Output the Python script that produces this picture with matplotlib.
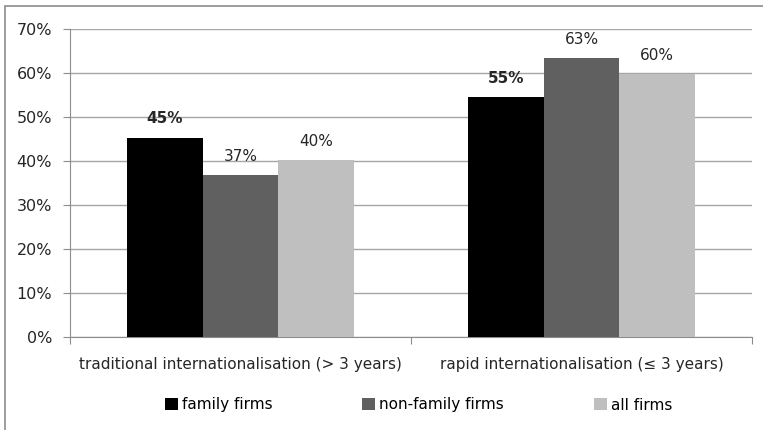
import numpy as np
import matplotlib
matplotlib.use("Agg")
import matplotlib.pyplot as plt
from matplotlib.patches import Rectangle
from matplotlib.ticker import FuncFormatter

categories = ["traditional internationalisation (> 3 years)",
              "rapid internationalisation (\u2264 3 years)"]
series_names = ["family firms", "non-family firms", "all firms"]
family = [45.4, 54.6]
non_family = [36.8, 63.4]
all_firms = [40.2, 59.8]
colors = ["#000000", "#606060", "#bfbfbf"]

fig = plt.figure(figsize=(7.63, 4.30), dpi=100)
ax = fig.add_axes([70 / 763, 1 - 337.3 / 430, 682 / 763, 308 / 430])

x = np.arange(len(categories))
width = 0.222
values = [family, non_family, all_firms]

for i, (name, vals, col) in enumerate(zip(series_names, values, colors)):
    pos = x + (i - 1) * width
    bars = ax.bar(pos, vals, width, color=col, label=name, zorder=3)
    for b, v in zip(bars, vals):
        ax.annotate(f"{v:.0f}%", (b.get_x() + b.get_width() / 2, v),
                    xytext=(0, 8), textcoords="offset points",
                    ha="center", va="bottom", fontsize=11,
                    fontweight="bold" if i == 0 else "normal",
                    color="#262626")

ax.set_xlim(-0.5, 1.5)
ax.set_ylim(0, 70)
ax.set_yticks(np.arange(0, 71, 10))
ax.yaxis.set_major_formatter(FuncFormatter(lambda v, p: f"{v:.0f}%"))
ax.set_xticks([-0.5, 0.5, 1.5])
ax.set_xticklabels([])
ax.set_xticks(x, minor=True)
ax.set_xticklabels(categories, minor=True)
ax.tick_params(axis="x", which="minor", length=0, pad=14, labelsize=11,
               labelcolor="#262626")
ax.tick_params(axis="x", which="major", length=5, color="#8c8c8c")
ax.tick_params(axis="y", length=5, color="#8c8c8c", labelsize=11.5,
               labelcolor="#262626", pad=8)

ax.grid(axis="y", color="#a6a6a6", linewidth=1, zorder=0)
for s in ["top", "right"]:
    ax.spines[s].set_visible(False)
for s in ["left", "bottom"]:
    ax.spines[s].set_color("#8c8c8c")

fig.legend(loc="center", bbox_to_anchor=(418.5 / 763, 1 - 405 / 430),
           ncol=3, frameon=False, fontsize=11, handlelength=0.85,
           handleheight=0.85, handletextpad=0.25, columnspacing=5.9,
           borderpad=0, borderaxespad=0)

# outer frame: only left and top edges are visible in the crop
fig.patches.append(Rectangle((5 / 763, -0.1), 1.0, 1.1 - 6.5 / 430,
                             transform=fig.transFigure, fill=False,
                             edgecolor="#8c8c8c", linewidth=1.2))

fig.savefig("out.png", dpi=100)
